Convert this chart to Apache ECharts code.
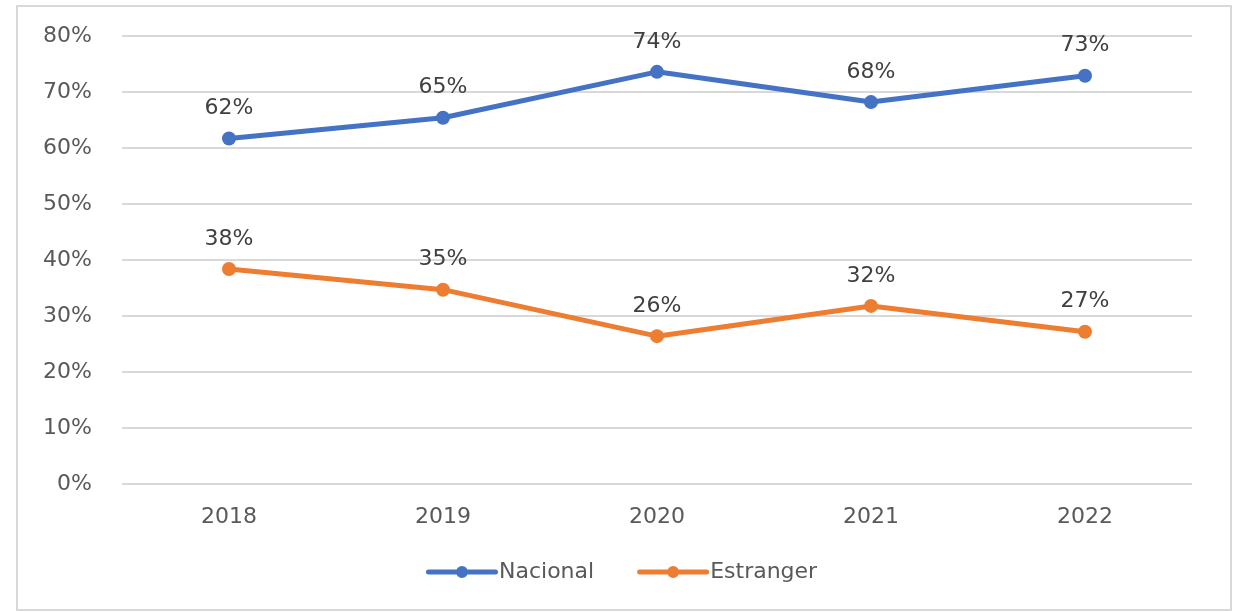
<!DOCTYPE html>
<html>
<head>
<meta charset="utf-8">
<script src="https://cdn.jsdelivr.net/npm/echarts@6/dist/echarts.min.js"></script>
<style>
  html, body { margin: 0; padding: 0; background: #fff; }
  #frame { position: absolute; left: 16px; top: 5px; width: 1212px; height: 602px; border: 2px solid #d9d9d9; }
  #chart { position: absolute; left: 0; top: 0; width: 1242px; height: 612px; }
</style>
</head>
<body>
<div id="frame"></div>
<div id="chart"></div>
<script>
const years = ['2018', '2019', '2020', '2021', '2022']
const nacional = [0.617, 0.654, 0.736, 0.682, 0.729]
const estranger = [0.384, 0.347, 0.264, 0.318, 0.272]

const textColor = '#595959'
const font = 'DejaVu Sans'
const pct = v => Math.round(v * 100) + '%'

// thick line with a dot in the middle, like the office legend key
const legendIcon = 'path://M2.5,3.5 L69.5,3.5 A2.5,2.5 0 0 1 69.5,8.5 L2.5,8.5 A2.5,2.5 0 0 1 2.5,3.5 Z M42,6 A6,6 0 1 1 30,6 A6,6 0 1 1 42,6 Z'

const chart = echarts.init(document.getElementById('chart'))

const makeSeries = (name, data, color) => ({
  name,
  type: 'line',
  data,
  symbol: 'circle',
  symbolSize: 14,
  lineStyle: { color, width: 5 },
  itemStyle: { color },
  label: {
    show: true,
    position: 'top',
    distance: 12,
    formatter: p => pct(p.value),
    color: '#404040',
    fontSize: 22,
    fontFamily: font
  }
})

chart.setOption({
  animation: false,
  backgroundColor: 'transparent',
  grid: { left: 122, right: 50, top: 36, bottom: 128, containLabel: false },
  legend: {
    top: 556,
    left: 421,
    icon: legendIcon,
    itemWidth: 72,
    itemHeight: 12,
    itemGap: 43,
    textStyle: { color: textColor, fontSize: 22, fontFamily: font, padding: [0, 0, 0, -4] },
    data: ['Nacional', 'Estranger']
  },
  xAxis: {
    type: 'category',
    data: years,
    axisLine: { show: false },
    axisTick: { show: false },
    axisLabel: { color: textColor, fontSize: 22, fontFamily: font, margin: 22 }
  },
  yAxis: {
    type: 'value',
    min: 0,
    max: 0.8,
    interval: 0.1,
    axisLine: { show: false },
    axisTick: { show: false },
    axisLabel: { color: textColor, fontSize: 22, fontFamily: font, margin: 30, formatter: pct },
    splitLine: { lineStyle: { color: '#d9d9d9', width: 2 } }
  },
  series: [
    makeSeries('Nacional', nacional, '#4472c4'),
    makeSeries('Estranger', estranger, '#ed7d31')
  ]
})
</script>
</body>
</html>
